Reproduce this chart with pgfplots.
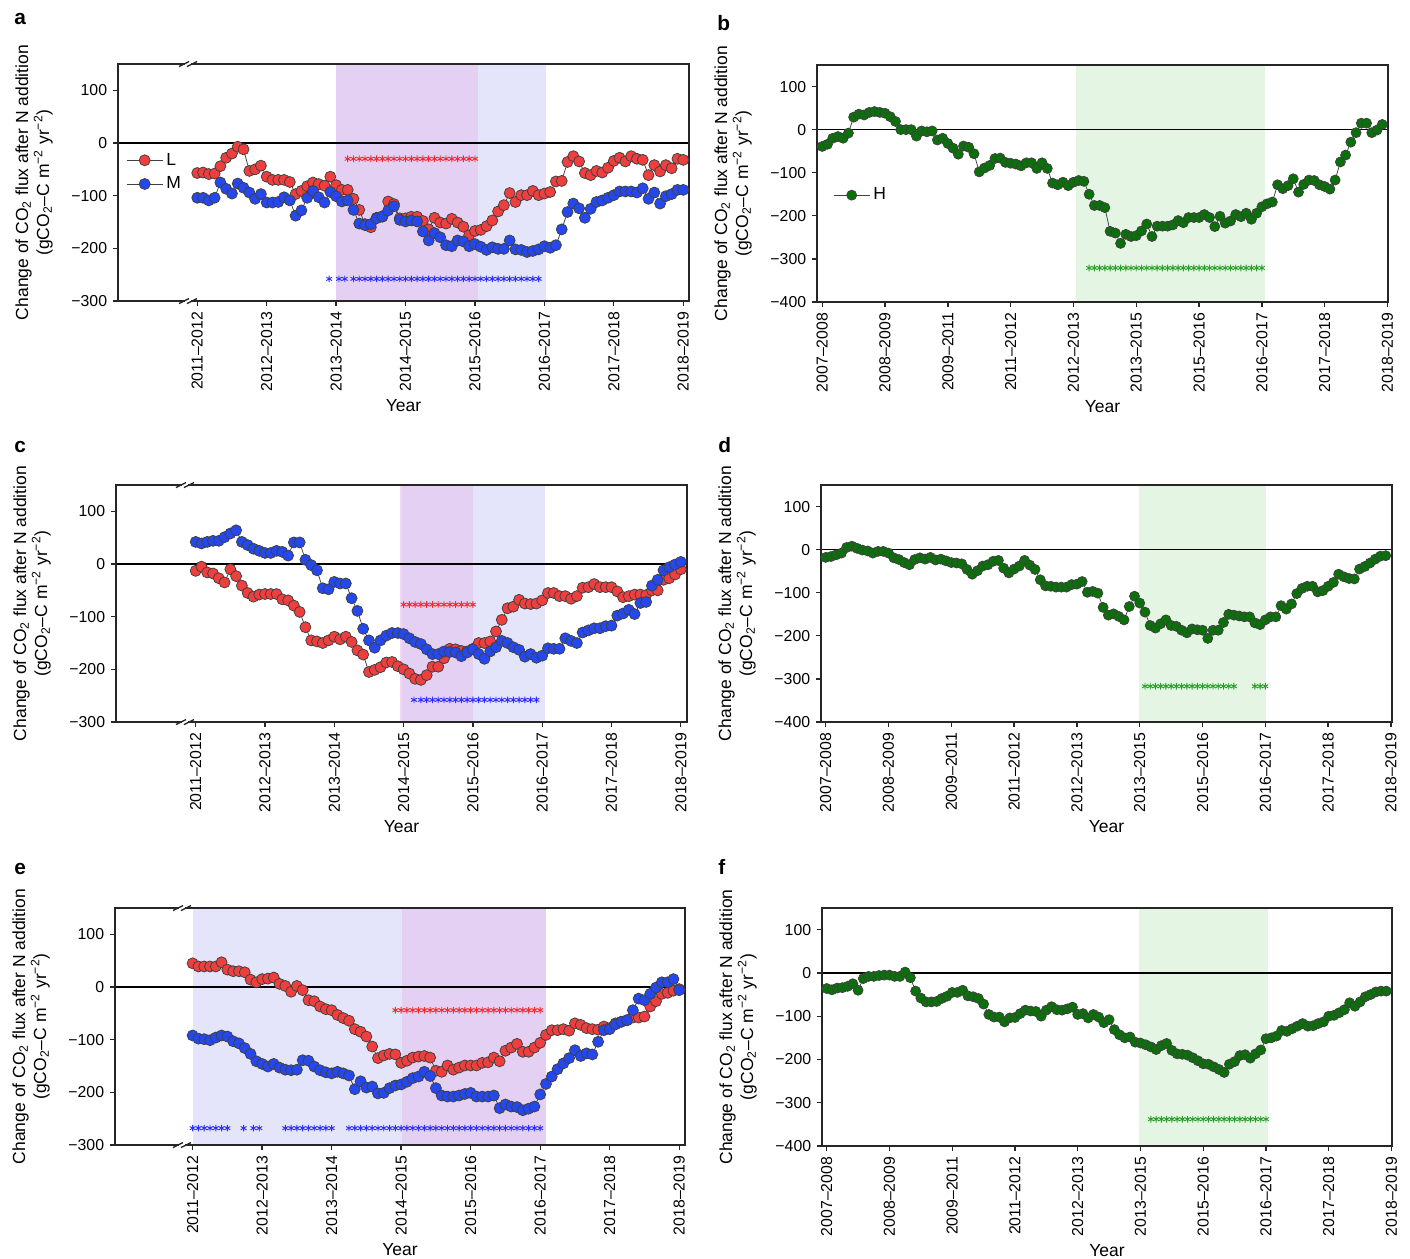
\documentclass[border=0pt]{standalone}
\usepackage{fontspec}
\setmainfont{Liberation Sans}
\usepackage{pgfplots}
\usepackage{pgfplotstable}
\pgfplotsset{compat=1.18}

% one unit of the layout grid
\newlength\px
\setlength\px{0.6pt}

\definecolor{lred}{RGB}{238,62,62}
\definecolor{mblue}{RGB}{36,72,238}
\definecolor{hgreen}{RGB}{10,112,10}
\definecolor{shpurple}{RGB}{228,208,242}
\definecolor{shblue}{RGB}{228,228,250}
\definecolor{shpink}{RGB}{244,214,240}
\definecolor{shgreen}{RGB}{228,245,228}
\definecolor{starred}{RGB}{255,40,40}
\definecolor{starblue}{RGB}{45,45,255}
\definecolor{stargreen}{RGB}{40,160,40}

% monthly values, m = months since the first season
\pgfplotstableread{
m L M
0 -57 -104
1 -56 -104
2 -59 -109
3 -58 -104
4 -44 -75
5 -28 -87
6 -20 -96
7 -7 -77
8 -12 -85
9 -53 -94
10 -50 -106
11 -43 -97
12 -64 -113
13 -70 -113
14 -70 -112
15 -70 -103
16 -74 -109
17 -97 -138
18 -91 -128
19 -82 -104
20 -75 -91
21 -78 -103
22 -81 -113
23 -64 -93
24 -80 -101
25 -89 -111
26 -89 -109
27 -106 -127
28 -127 -153
29 -154 -156
30 -160 -154
31 -142 -143
32 -140 -139
33 -111 -128
34 -116 -120
35 -143 -146
36 -143 -149
37 -140 -147
38 -140 -149
39 -148 -168
40 -164 -185
41 -142 -171
42 -151 -179
43 -153 -194
44 -144 -196
45 -151 -185
46 -159 -187
47 -175 -196
48 -167 -192
49 -165 -197
50 -158 -203
51 -147 -198
52 -130 -201
53 -118 -201
54 -95 -185
55 -112 -202
56 -99 -203
57 -99 -207
58 -91 -205
59 -99 -202
60 -96 -196
61 -93 -199
62 -73 -194
63 -72 -164
64 -36 -131
65 -25 -115
66 -35 -124
67 -57 -142
68 -61 -125
69 -53 -112
70 -56 -109
71 -47 -104
72 -34 -99
73 -28 -92
74 -35 -92
75 -25 -92
76 -30 -94
77 -32 -86
78 -61 -106
79 -42 -94
80 -54 -115
81 -42 -101
82 -48 -97
83 -30 -89
84 -32 -89
}\tabA

\pgfplotstableread{
m H
0 -39
1 -34
2 -20
3 -16
4 -20
5 -8
6 29
7 36
8 34
9 40
10 42
11 40
12 38
13 30
14 19
15 0
16 0
17 0
18 -15
19 -3
20 -5
21 -3
22 -24
23 -20
24 -32
25 -43
26 -57
27 -38
28 -41
29 -56
30 -98
31 -89
32 -83
33 -67
34 -66
35 -76
36 -78
37 -80
38 -84
39 -77
40 -77
41 -90
42 -77
43 -90
44 -124
45 -128
46 -122
47 -130
48 -122
49 -118
50 -120
51 -150
52 -176
53 -176
54 -181
55 -236
56 -240
57 -264
58 -243
59 -248
60 -246
61 -235
62 -219
63 -248
64 -224
65 -224
66 -224
67 -221
68 -211
69 -216
70 -204
71 -204
72 -204
73 -197
74 -204
75 -225
76 -201
77 -217
78 -212
79 -197
80 -202
81 -194
82 -208
83 -194
84 -179
85 -172
86 -168
87 -128
88 -137
89 -130
90 -114
91 -145
92 -127
93 -117
94 -118
95 -128
96 -132
97 -138
98 -117
99 -75
100 -59
101 -29
102 -7
103 15
104 15
105 -7
106 -1
107 12
}\tabB

\pgfplotstableread{
m L M
0 -13 42
1 -5 39
2 -16 42
3 -18 44
4 -27 44
5 -35 51
6 -10 58
7 -23 64
8 -41 42
9 -55 36
10 -62 29
11 -58 25
12 -57 21
13 -57 21
14 -57 25
15 -67 23
16 -69 16
17 -79 41
18 -91 41
19 -120 8
20 -145 -2
21 -147 -12
22 -150 -46
23 -145 -48
24 -138 -34
25 -143 -37
26 -138 -37
27 -148 -65
28 -164 -89
29 -172 -123
30 -205 -145
31 -201 -159
32 -196 -145
33 -187 -136
34 -186 -131
35 -194 -131
36 -200 -133
37 -208 -141
38 -218 -148
39 -220 -152
40 -211 -162
41 -195 -171
42 -195 -171
43 -179 -166
44 -161 -167
45 -162 -168
46 -165 -175
47 -166 -168
48 -161 -162
49 -150 -171
50 -150 -180
51 -147 -166
52 -128 -158
53 -106 -146
54 -84 -150
55 -81 -158
56 -68 -163
57 -75 -176
58 -76 -171
59 -75 -178
60 -69 -174
61 -55 -160
62 -55 -161
63 -61 -161
64 -61 -141
65 -66 -146
66 -61 -150
67 -45 -130
68 -44 -126
69 -38 -122
70 -44 -122
71 -44 -118
72 -44 -117
73 -52 -98
74 -63 -94
75 -61 -87
76 -58 -95
77 -58 -74
78 -59 -72
79 -50 -41
80 -50 -30
81 -30 -12
82 -27 -6
83 -20 -1
84 -10 4
}\tabC

\pgfplotstableread{
m H
0 -18
1 -16
2 -12
3 -8
4 5
5 8
6 3
7 -1
8 -3
9 -8
10 -4
11 -4
12 -8
13 -19
14 -23
15 -30
16 -35
17 -23
18 -19
19 -22
20 -18
21 -24
22 -22
23 -26
24 -30
25 -31
26 -33
27 -46
28 -57
29 -49
30 -38
31 -35
32 -27
33 -25
34 -43
35 -54
36 -45
37 -38
38 -25
39 -36
40 -46
41 -70
42 -84
43 -85
44 -87
45 -87
46 -87
47 -81
48 -80
49 -74
50 -99
51 -97
52 -101
53 -134
54 -152
55 -149
56 -155
57 -163
58 -132
59 -108
60 -124
61 -145
62 -176
63 -182
64 -172
65 -163
66 -176
67 -178
68 -187
69 -193
70 -184
71 -186
72 -187
73 -206
74 -187
75 -187
76 -169
77 -150
78 -152
79 -154
80 -156
81 -156
82 -170
83 -174
84 -163
85 -156
86 -156
87 -130
88 -138
89 -126
90 -102
91 -90
92 -85
93 -85
94 -98
95 -95
96 -85
97 -76
98 -57
99 -63
100 -67
101 -68
102 -45
103 -39
104 -31
105 -22
106 -15
107 -14
}\tabD

\pgfplotstableread{
m L M
0 45 -92
1 39 -98
2 39 -99
3 39 -101
4 39 -96
5 47 -92
6 33 -94
7 30 -103
8 30 -107
9 28 -116
10 14 -127
11 9 -141
12 15 -146
13 16 -151
14 18 -146
15 6 -153
16 2 -157
17 -9 -158
18 2 -157
19 -6 -139
20 -25 -140
21 -27 -151
22 -37 -158
23 -42 -162
24 -44 -164
25 -53 -161
26 -59 -164
27 -64 -168
28 -80 -194
29 -85 -179
30 -94 -191
31 -113 -189
32 -135 -202
33 -130 -201
34 -127 -192
35 -128 -187
36 -144 -185
37 -140 -180
38 -134 -173
39 -132 -170
40 -131 -161
41 -134 -169
42 -159 -192
43 -161 -206
44 -149 -208
45 -157 -208
46 -153 -206
47 -149 -203
48 -149 -201
49 -149 -208
50 -144 -208
51 -143 -208
52 -134 -206
53 -141 -230
54 -121 -223
55 -115 -227
56 -108 -228
57 -123 -234
58 -123 -231
59 -115 -227
60 -106 -204
61 -91 -184
62 -82 -170
63 -82 -156
64 -80 -145
65 -83 -135
66 -69 -120
67 -72 -131
68 -78 -126
69 -80 -128
70 -81 -104
71 -75 -82
72 -78 -80
73 -69 -71
74 -66 -66
75 -63 -63
76 -58 -44
77 -58 -22
78 -56 -25
79 -37 -13
80 -27 -1
81 -13 9
82 -11 9
83 -7 15
84 -4 -6
}\tabE

\pgfplotstableread{
m H
0 -36
1 -39
2 -35
3 -34
4 -31
5 -25
6 -40
7 -13
8 -8
9 -8
10 -6
11 -5
12 -5
13 -8
14 -8
15 2
16 -11
17 -42
18 -58
19 -67
20 -67
21 -66
22 -59
23 -54
24 -45
25 -45
26 -40
27 -53
28 -55
29 -59
30 -72
31 -96
32 -102
33 -102
34 -113
35 -104
36 -103
37 -94
38 -86
39 -88
40 -89
41 -100
42 -86
43 -78
44 -85
45 -86
46 -83
47 -79
48 -96
49 -94
50 -104
51 -96
52 -102
53 -115
54 -108
55 -131
56 -143
57 -150
58 -148
59 -160
60 -162
61 -166
62 -171
63 -177
64 -168
65 -163
66 -179
67 -187
68 -188
69 -190
70 -196
71 -203
72 -210
73 -211
74 -217
75 -223
76 -230
77 -211
78 -205
79 -191
80 -189
81 -197
82 -187
83 -178
84 -152
85 -150
86 -146
87 -133
88 -135
89 -129
90 -123
91 -117
92 -123
93 -122
94 -117
95 -113
96 -100
97 -98
98 -92
99 -85
100 -69
101 -77
102 -67
103 -55
104 -50
105 -44
106 -42
107 -42
}\tabF

\pgfplotsset{
  panel/.style={
    scale only axis,
    axis on top,
    clip=false,
    anchor=south west,
    axis line style={draw=black!85, line width=0.9pt},
    tick style={draw=black!85, line width=0.8pt},
    major tick length=5\px,
    tick align=outside,
    xtick pos=bottom, ytick pos=left,
    ticklabel style={font=\fontsize{9.5}{11}\selectfont},
    xticklabel style={rotate=90, anchor=east},
    every axis y label/.style={at={(axis description cs:0,0.5)}, xshift=-65\px,
      rotate=90, anchor=south, align=center, inner sep=0pt,
      font=\fontsize{10.5}{12.6}\selectfont},
    every axis x label/.style={at={(axis description cs:0.5,0)}, yshift=-105\px,
      anchor=center, inner sep=0pt, font=\fontsize{10.5}{12}\selectfont},
    ylabel={Change of CO\textsubscript{2} flux after N addition\\(gCO\textsubscript{2}–C m\textsuperscript{−2} yr\textsuperscript{−2})},
    xlabel={Year},
    legend style={draw=none, fill=none, inner sep=0pt, row sep=2.5\px,
      font=\fontsize{10.5}{12}\selectfont, anchor=north west},
    legend cell align=left,
    legend image code/.code={\draw[##1, mark repeat=2, mark phase=2]
      plot coordinates {(0pt,0pt) (10.8pt,0pt) (21.6pt,0pt)};},
  },
  short/.style={panel, xtick={0,12,...,84},
    xticklabels={2011–2012,2012–2013,2013–2014,2014–2015,2015–2016,2016–2017,2017–2018,2018–2019},
    ymin=-300, ymax=150, ytick={-300,-200,-100,0,100},
    yticklabels={−300,−200,−100,0,100}},
  long/.style={panel, xtick={0,12,...,108},
    xticklabels={2007–2008,2008–2009,2009–2011,2011–2012,2012–2013,2013–2015,2015–2016,2016–2017,2017–2018,2018–2019},
    ymin=-400, ymax=150, ytick={-400,-300,-200,-100,0,100},
    yticklabels={−400,−300,−200,−100,0,100}},
  ser/.style={draw=black!75, line width=0.45pt, mark=*, mark size=#1,
    mark options={draw=black, line width=0.45pt, solid}},
  stars/.style={forget plot, only marks, mark=asterisk, mark size=2pt,
    mark options={draw=#1, line width=0.55pt}},
}

% axis break drawn across the frame at layout position (#1,#2)
\newcommand\brk[2]{%
  \fill[white] (#1\px-3\px,-#2\px-2\px) rectangle (#1\px+3\px,-#2\px+2\px);
  \draw[black!85, line width=0.8pt] (#1\px-9\px,-#2\px-2.5\px) -- (#1\px+1\px,-#2\px+2.5\px);
  \draw[black!85, line width=0.8pt] (#1\px-1\px,-#2\px-2.5\px) -- (#1\px+9\px,-#2\px+2.5\px);
}
\newcommand\plabel[3]{\node[anchor=base west, inner sep=0pt, font=\fontsize{12.5}{14}\bfseries] at (#1\px,-#2\px) {#3};}

\begin{document}
\begin{tikzpicture}
\useasboundingbox (0,0) rectangle (1410\px,-1258\px);

% ---------------- a ----------------
\begin{axis}[short, at={(118\px,-301\px)}, width=571\px, height=237\px,
  xmin=-13.7, xmax=85.0,
  legend style={at={(axis description cs:0.014,0.64)}}]
  \fill[shpurple] (axis cs:24,-300) rectangle (axis cs:48.5,150);
  \fill[shblue] (axis cs:48.5,-300) rectangle (axis cs:60.2,150);
  \draw[black, line width=0.9pt] (axis cs:-13.7,0) -- (axis cs:85,0);
  \addplot[stars=starred] coordinates {(26,-30) (27,-30) (28,-30) (29,-30) (30,-30) (31,-30) (32,-30) (33,-30) (34,-30) (35,-30) (36,-30) (37,-30) (38,-30) (39,-30) (40,-30) (41,-30) (42,-30) (43,-30) (44,-30) (45,-30) (46,-30) (47,-30) (48,-30)};
  \addplot[stars=starblue] coordinates {(22.8,-258) (24.5,-258) (25.5,-258) (27,-258) (28,-258) (29,-258) (30,-258) (31,-258) (32,-258) (33,-258) (34,-258) (35,-258) (36,-258) (37,-258) (38,-258) (39,-258) (40,-258) (41,-258) (42,-258) (43,-258) (44,-258) (45,-258) (46,-258) (47,-258) (48,-258) (49,-258) (50,-258) (51,-258) (52,-258) (53,-258) (54,-258) (55,-258) (56,-258) (57,-258) (58,-258) (59,-258)};
  \addplot[ser=3.3pt, mark options={fill=lred}] table[x=m, y=L] {\tabA};
  \addlegendentry{L}
  \addplot[ser=3.3pt, mark options={fill=mblue}] table[x=m, y=M] {\tabA};
  \addlegendentry{M}
\end{axis}
\brk{188}{64}
\brk{188}{301}

% ---------------- b ----------------
\begin{axis}[long, at={(817\px,-302\px)}, width=571\px, height=237\px,
  xmin=-1.0, xmax=108.1,
  legend style={at={(axis description cs:0.028,0.497)}}]
  \fill[shgreen] (axis cs:48.4,-400) rectangle (axis cs:84.6,150);
  \draw[black, line width=0.9pt] (axis cs:-1,0) -- (axis cs:108.1,0);
  \addplot[stars=stargreen] coordinates {(51,-321) (52,-321) (53,-321) (54,-321) (55,-321) (56,-321) (57,-321) (58,-321) (59,-321) (60,-321) (61,-321) (62,-321) (63,-321) (64,-321) (65,-321) (66,-321) (67,-321) (68,-321) (69,-321) (70,-321) (71,-321) (72,-321) (73,-321) (74,-321) (75,-321) (76,-321) (77,-321) (78,-321) (79,-321) (80,-321) (81,-321) (82,-321) (83,-321) (84,-321)};
  \addplot[ser=3.0pt, mark options={fill=hgreen}] table[x=m, y=H] {\tabB};
  \addlegendentry{H}
\end{axis}

% ---------------- c ----------------
\begin{axis}[short, at={(116\px,-722\px)}, width=571\px, height=237\px,
  xmin=-13.8, xmax=85.07]
  \fill[shpink] (axis cs:35.4,-300) rectangle (axis cs:35.8,150);
  \fill[shpurple] (axis cs:35.8,-300) rectangle (axis cs:48,150);
  \fill[shblue] (axis cs:48,-300) rectangle (axis cs:60.5,150);
  \draw[black, line width=0.9pt] (axis cs:-13.8,0) -- (axis cs:85.07,0);
  \addplot[stars=starred] coordinates {(36,-77) (37,-77) (38,-77) (39,-77) (40,-77) (41,-77) (42,-77) (43,-77) (44,-77) (45,-77) (46,-77) (47,-77) (48,-77)};
  \addplot[stars=starblue] coordinates {(37.8,-258) (39,-258) (40,-258) (41,-258) (42,-258) (43,-258) (44,-258) (45,-258) (46,-258) (47,-258) (48,-258) (49,-258) (50,-258) (51,-258) (52,-258) (53,-258) (54,-258) (55,-258) (56,-258) (57,-258) (58,-258) (59,-258)};
  \addplot[ser=3.3pt, mark options={fill=lred}] table[x=m, y=L] {\tabC};
  \addplot[ser=3.3pt, mark options={fill=mblue}] table[x=m, y=M] {\tabC};
\end{axis}
\brk{185}{485}
\brk{185}{722}

% ---------------- d ----------------
\begin{axis}[long, at={(821\px,-722\px)}, width=571\px, height=237\px,
  xmin=-0.9, xmax=108.2]
  \fill[shgreen] (axis cs:59.8,-400) rectangle (axis cs:84.2,150);
  \draw[black, line width=0.9pt] (axis cs:-0.9,0) -- (axis cs:108.2,0);
  \addplot[stars=stargreen] coordinates {(61,-317) (62,-317) (63,-317) (64,-317) (65,-317) (66,-317) (67,-317) (68,-317) (69,-317) (70,-317) (71,-317) (72,-317) (73,-317) (74,-317) (75,-317) (76,-317) (77,-317) (78,-317) (82,-317) (83,-317) (84,-317)};
  \addplot[ser=3.0pt, mark options={fill=hgreen}] table[x=m, y=H] {\tabD};
\end{axis}

% ---------------- e ----------------
\begin{axis}[short, at={(115\px,-1145\px)}, width=570\px, height=237\px,
  xmin=-13.4, xmax=85.0]
  \fill[shblue] (axis cs:0,-300) rectangle (axis cs:36.1,150);
  \fill[shpurple] (axis cs:36.1,-300) rectangle (axis cs:61.0,150);
  \draw[black, line width=0.9pt] (axis cs:-13.4,0) -- (axis cs:85,0);
  \addplot[stars=starred] coordinates {(35,-44) (36,-44) (37,-44) (38,-44) (39,-44) (40,-44) (41,-44) (42,-44) (43,-44) (44,-44) (45,-44) (46,-44) (47,-44) (48,-44) (49,-44) (50,-44) (51,-44) (52,-44) (53,-44) (54,-44) (55,-44) (56,-44) (57,-44) (58,-44) (59,-44) (60,-44)};
  \addplot[stars=starblue] coordinates {(0,-268) (1,-268) (2,-268) (3,-268) (4,-268) (5,-268) (6,-268) (8.8,-268) (10.5,-268) (11.5,-268) (16,-268) (17,-268) (18,-268) (19,-268) (20,-268) (21,-268) (22,-268) (23,-268) (24,-268) (27,-268) (28,-268) (29,-268) (30,-268) (31,-268) (32,-268) (33,-268) (34,-268) (35,-268) (36,-268) (37,-268) (38,-268) (39,-268) (40,-268) (41,-268) (42,-268) (43,-268) (44,-268) (45,-268) (46,-268) (47,-268) (48,-268) (49,-268) (50,-268) (51,-268) (52,-268) (53,-268) (54,-268) (55,-268) (56,-268) (57,-268) (58,-268) (59,-268) (60,-268)};
  \addplot[ser=3.3pt, mark options={fill=lred}] table[x=m, y=L] {\tabE};
  \addplot[ser=3.3pt, mark options={fill=mblue}] table[x=m, y=M] {\tabE};
\end{axis}
\brk{182}{908}
\brk{182}{1145}

% ---------------- f ----------------
\begin{axis}[long, at={(822\px,-1146\px)}, width=570\px, height=238\px,
  xmin=-0.9, xmax=108.1]
  \fill[shgreen] (axis cs:59.8,-400) rectangle (axis cs:84.4,150);
  \draw[black, line width=0.9pt] (axis cs:-0.9,0) -- (axis cs:108.1,0);
  \addplot[stars=stargreen] coordinates {(62,-338) (63,-338) (64,-338) (65,-338) (66,-338) (67,-338) (68,-338) (69,-338) (70,-338) (71,-338) (72,-338) (73,-338) (74,-338) (75,-338) (76,-338) (77,-338) (78,-338) (79,-338) (80,-338) (81,-338) (82,-338) (83,-338) (84,-338)};
  \addplot[ser=3.0pt, mark options={fill=hgreen}] table[x=m, y=H] {\tabF};
\end{axis}

\plabel{14}{24}{a}
\plabel{717}{30}{b}
\plabel{14}{452}{c}
\plabel{718}{452}{d}
\plabel{14}{874}{e}
\plabel{718}{874}{f}
\end{tikzpicture}
\end{document}
